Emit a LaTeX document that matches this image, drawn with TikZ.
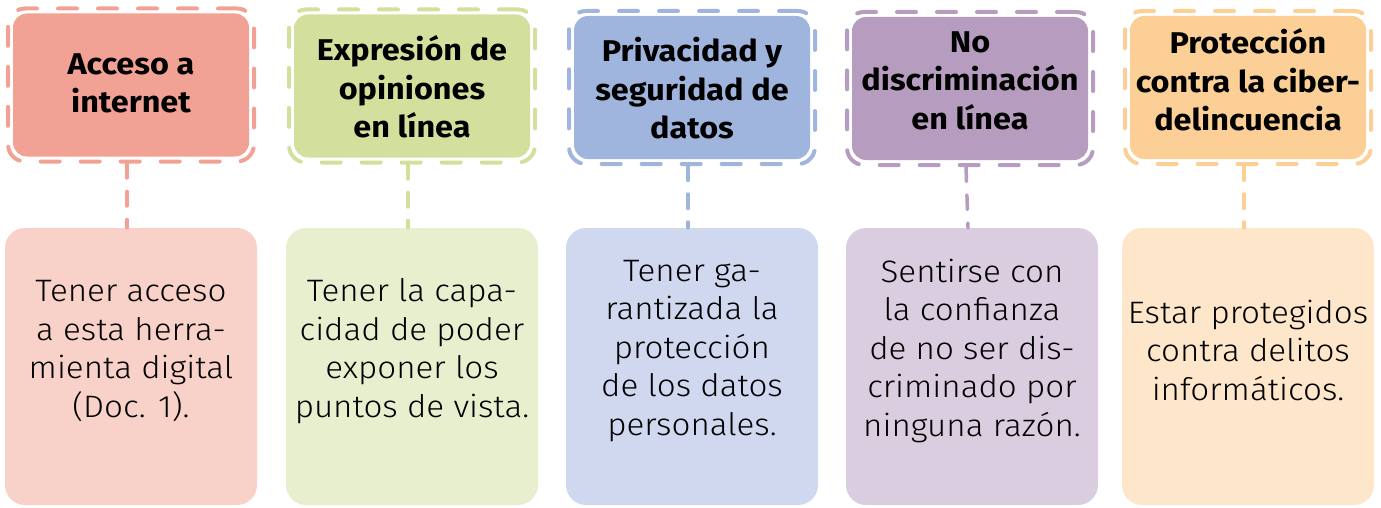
\documentclass[tikz,border=0pt]{standalone}
\usepackage{fontspec}
\setmainfont[FakeStretch=1.08]{Fira Sans}
\newfontfamily\lightfont[FakeStretch=1.07]{Fira Sans Light}
\definecolor{hA}{HTML}{F1A295}\definecolor{lA}{HTML}{F8D2C9}
\definecolor{hB}{HTML}{D3E09D}\definecolor{lB}{HTML}{E8EFCF}
\definecolor{hC}{HTML}{A0B5DD}\definecolor{lC}{HTML}{CFD8EF}
\definecolor{hD}{HTML}{B69CBE}\definecolor{lD}{HTML}{DBCDE0}
\definecolor{hE}{HTML}{FBCF95}\definecolor{lE}{HTML}{FDE6CA}
\tikzset{
 dframe/.style={draw=#1, line width=4pt, dash pattern=on 19pt off 21pt, line cap=round, rounded corners=17pt, minimum width=246pt, minimum height=153pt, inner sep=0pt},
 hbox/.style={fill=#1, rounded corners=14pt, minimum width=236pt, minimum height=143pt, inner sep=0pt},
 lbox/.style={fill=#1, rounded corners=20pt, minimum width=252pt, minimum height=277pt, inner sep=0pt},
 htext/.style={align=center, inner sep=0pt, font=\bfseries\fontsize{30}{38.5}\selectfont},
 ltext/.style={align=center, inner sep=0pt, font=\lightfont\fontsize{31}{38.5}\selectfont},
 conn/.style={draw=#1, line width=3.5pt, dash pattern=on 14.5pt off 13.5pt, line cap=round}
}
\begin{document}
\begin{tikzpicture}[x=1pt,y=-1pt]
\useasboundingbox (0,0) rectangle (1381,508);
% column 1
\node[dframe=hA] (f1) at (131,85) {};
\node[hbox=hA] (h1) at (131,85) {};
\node[htext] (t1) at (131,83.5) {Acceso a\\internet};
\node[lbox=lA] (b1) at (131,366.5) {};
\node[ltext] (d1) at (131,351) {Tener acceso\\a esta herra-\\mienta digital\\(Doc. 1).};
\draw[conn=hA] ([xshift=-4pt]f1.south) -- ([xshift=-4pt]b1.north);
% column 2
\node[dframe=hB] (f2) at (412,86) {};
\node[hbox=hB] (h2) at (412,86) {};
\node[htext] (t2) at (412,87) {Expresión de\\opiniones\\en línea};
\node[lbox=lB] (b2) at (412,366.5) {};
\node[ltext] (d2) at (412,351) {Tener la capa-\\cidad de poder\\exponer los\\puntos de vista.};
\draw[conn=hB] ([xshift=-4pt]f2.south) -- ([xshift=-4pt]b2.north);
% column 3
\node[dframe=hC] (f3) at (692,87.5) {};
\node[hbox=hC] (h3) at (692,87.5) {};
\node[htext] (t3) at (692,88.5) {Privacidad y\\seguridad de\\datos};
\node[lbox=lC] (b3) at (692,366.5) {};
\node[ltext] (d3) at (692,351) {Tener ga-\\rantizada la\\protección\\de los datos\\personales.};
\draw[conn=hC] ([xshift=-4pt]f3.south) -- ([xshift=-4pt]b3.north);
% column 4
\node[dframe=hD] (f4) at (970,88.5) {};
\node[hbox=hD] (h4) at (970,88.5) {};
\node[htext] (t4) at (970,80.5) {No\\discriminación\\en línea};
\node[lbox=lD] (b4) at (972,366.5) {};
\node[ltext] (d4) at (972,351) {Sentirse con\\la confianza\\de no ser dis-\\criminado por\\ninguna razón.};
\draw[conn=hD] ([xshift=-4pt]f4.south) -- ([xshift=-4pt]b4.north);
% column 5
\node[dframe=hE] (f5) at (1248,87.5) {};
\node[hbox=hE] (h5) at (1248,87.5) {};
\node[htext] (t5) at (1248,80) {Protección\\contra la ciber-\\delincuencia};
\node[lbox=lE] (b5) at (1248,366.5) {};
\node[ltext] (d5) at (1248,350) {Estar protegidos\\contra delitos\\informáticos.};
\draw[conn=hE] ([xshift=-4pt]f5.south) -- ([xshift=-4pt]b5.north);
\end{tikzpicture}
\end{document}
